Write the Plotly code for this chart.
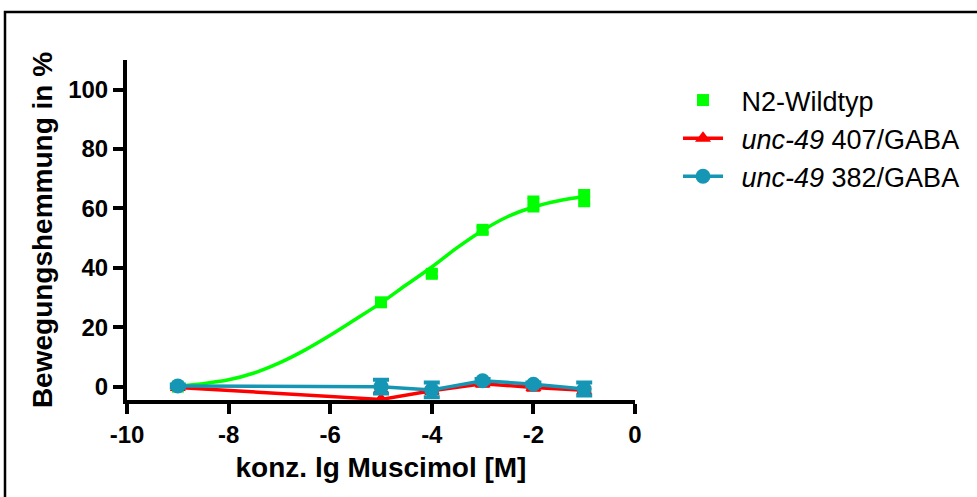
import plotly.graph_objects as go

# ---- data ----
conc = [-9, -5, -4, -3, -2, -1]

n2_mean = [0.0, 28.4, 38.0, 52.8, 61.5, 63.5]
n2_err = [0.5, 1.0, 1.0, 1.0, 2.3, 2.5]

# fitted curve for N2
fit_x = [-9, -8.5, -8, -7.5, -7, -6.5, -6, -5.5, -5, -4.5, -4, -3.5, -3, -2.5, -2, -1.5, -1]
fit_y = [0.2, 1.0, 2.3, 4.6, 8.0, 12.3, 17.3, 22.7, 28.2, 34.3, 40.3, 46.8, 52.6, 57.3, 60.5, 62.6, 64.0]

u407_mean = [-0.3, -4.3, -1.4, 1.0, -0.3, -1.2]
u407_err = [0.5, 2.3, 0.8, 0.8, 0.8, 0.8]

u382_mean = [0.2, 0.0, -1.1, 2.0, 0.8, -0.8]
u382_err = [0.5, 2.3, 2.5, 0.6, 0.6, 2.2]

x_ticks = [-10, -8, -6, -4, -2, 0]
x_tick_labels = ["-10", "-8", "-6", "-4", "-2", "0"]
y_ticks = [0, 20, 40, 60, 80, 100]
y_tick_labels = ["0", "20", "40", "60", "80", "100"]

names = ["\u2002N2-Wildtyp", "\u2002<i>unc-49</i> 407/GABA", "\u2002<i>unc-49</i> 382/GABA"]

GREEN = "#00FF00"
RED = "#FF0000"
TEAL = "#1596B4"
FONT = "Liberation Sans, Arial, sans-serif"

fig = go.Figure()

fig.add_trace(go.Scatter(
    x=fit_x, y=fit_y, mode="lines", line=dict(color=GREEN, width=3.5, shape="spline"),
    showlegend=False, hoverinfo="skip"))

fig.add_trace(go.Scatter(
    x=conc, y=n2_mean, mode="markers", name=names[0],
    marker=dict(symbol="square", size=12, color=GREEN),
    error_y=dict(type="data", array=n2_err, color=GREEN, thickness=3.5, width=6)))

fig.add_trace(go.Scatter(
    x=conc, y=u407_mean, mode="lines+markers", name=names[1],
    line=dict(color=RED, width=3.5),
    marker=dict(symbol="triangle-up", size=14, color=RED),
    error_y=dict(type="data", array=u407_err, color=RED, thickness=3.5, width=7)))

fig.add_trace(go.Scatter(
    x=conc, y=u382_mean, mode="lines+markers", name=names[2],
    line=dict(color=TEAL, width=3.5),
    marker=dict(symbol="circle", size=15, color=TEAL),
    error_y=dict(type="data", array=u382_err, color=TEAL, thickness=4, width=8)))

# plot area geometry in px
L, R, T, B = 127, 635, 60, 400
W, H = 977, 497
pw, ph = R - L, B - T

def px_x(p):
    return (p - L) / pw

def px_y(p):
    return (B - p) / ph

# outer frame (top and left edges visible, rest outside the picture)
fig.add_shape(type="rect", xref="paper", yref="paper",
              x0=px_x(5), x1=px_x(1000), y0=px_y(12), y1=px_y(530),
              line=dict(color="black", width=2.5), fillcolor="rgba(0,0,0,0)", layer="below")

fig.update_layout(
    width=W, height=H,
    margin=dict(l=L, r=W - R, t=T, b=H - B),
    paper_bgcolor="white", plot_bgcolor="white",
    font=dict(family=FONT, color="black"),
    showlegend=True,
    legend=dict(x=px_x(678), y=px_y(76), xanchor="left", yanchor="top",
                font=dict(family=FONT, size=27, color="black"),
                bgcolor="rgba(0,0,0,0)", itemwidth=40, tracegroupgap=0),
    xaxis=dict(range=[-10, 0], tickvals=x_ticks, ticktext=x_tick_labels,
               showgrid=False, zeroline=False, showline=True, linecolor="black", linewidth=4,
               ticks="outside", ticklen=10, tickwidth=3.5, tickcolor="black",
               tickfont=dict(family=FONT, size=24, weight="bold"),
               title=dict(text="konz. lg Muscimol [M]", standoff=12,
                          font=dict(family=FONT, size=28, weight="bold"))),
    yaxis=dict(range=[-4.5, 110], tickvals=y_ticks, ticktext=y_tick_labels,
               showgrid=False, zeroline=False, showline=True, linecolor="black", linewidth=4,
               ticks="outside", ticklen=10, tickwidth=3.5, tickcolor="black",
               tickfont=dict(family=FONT, size=24, weight="bold"),
               title=dict(text="Bewegungshemmung in %", standoff=8,
                          font=dict(family=FONT, size=28, weight="bold"))),
)

fig.write_html("out.html", config={"displayModeBar": False},
               post_script="document.body.style.margin='0px';")
